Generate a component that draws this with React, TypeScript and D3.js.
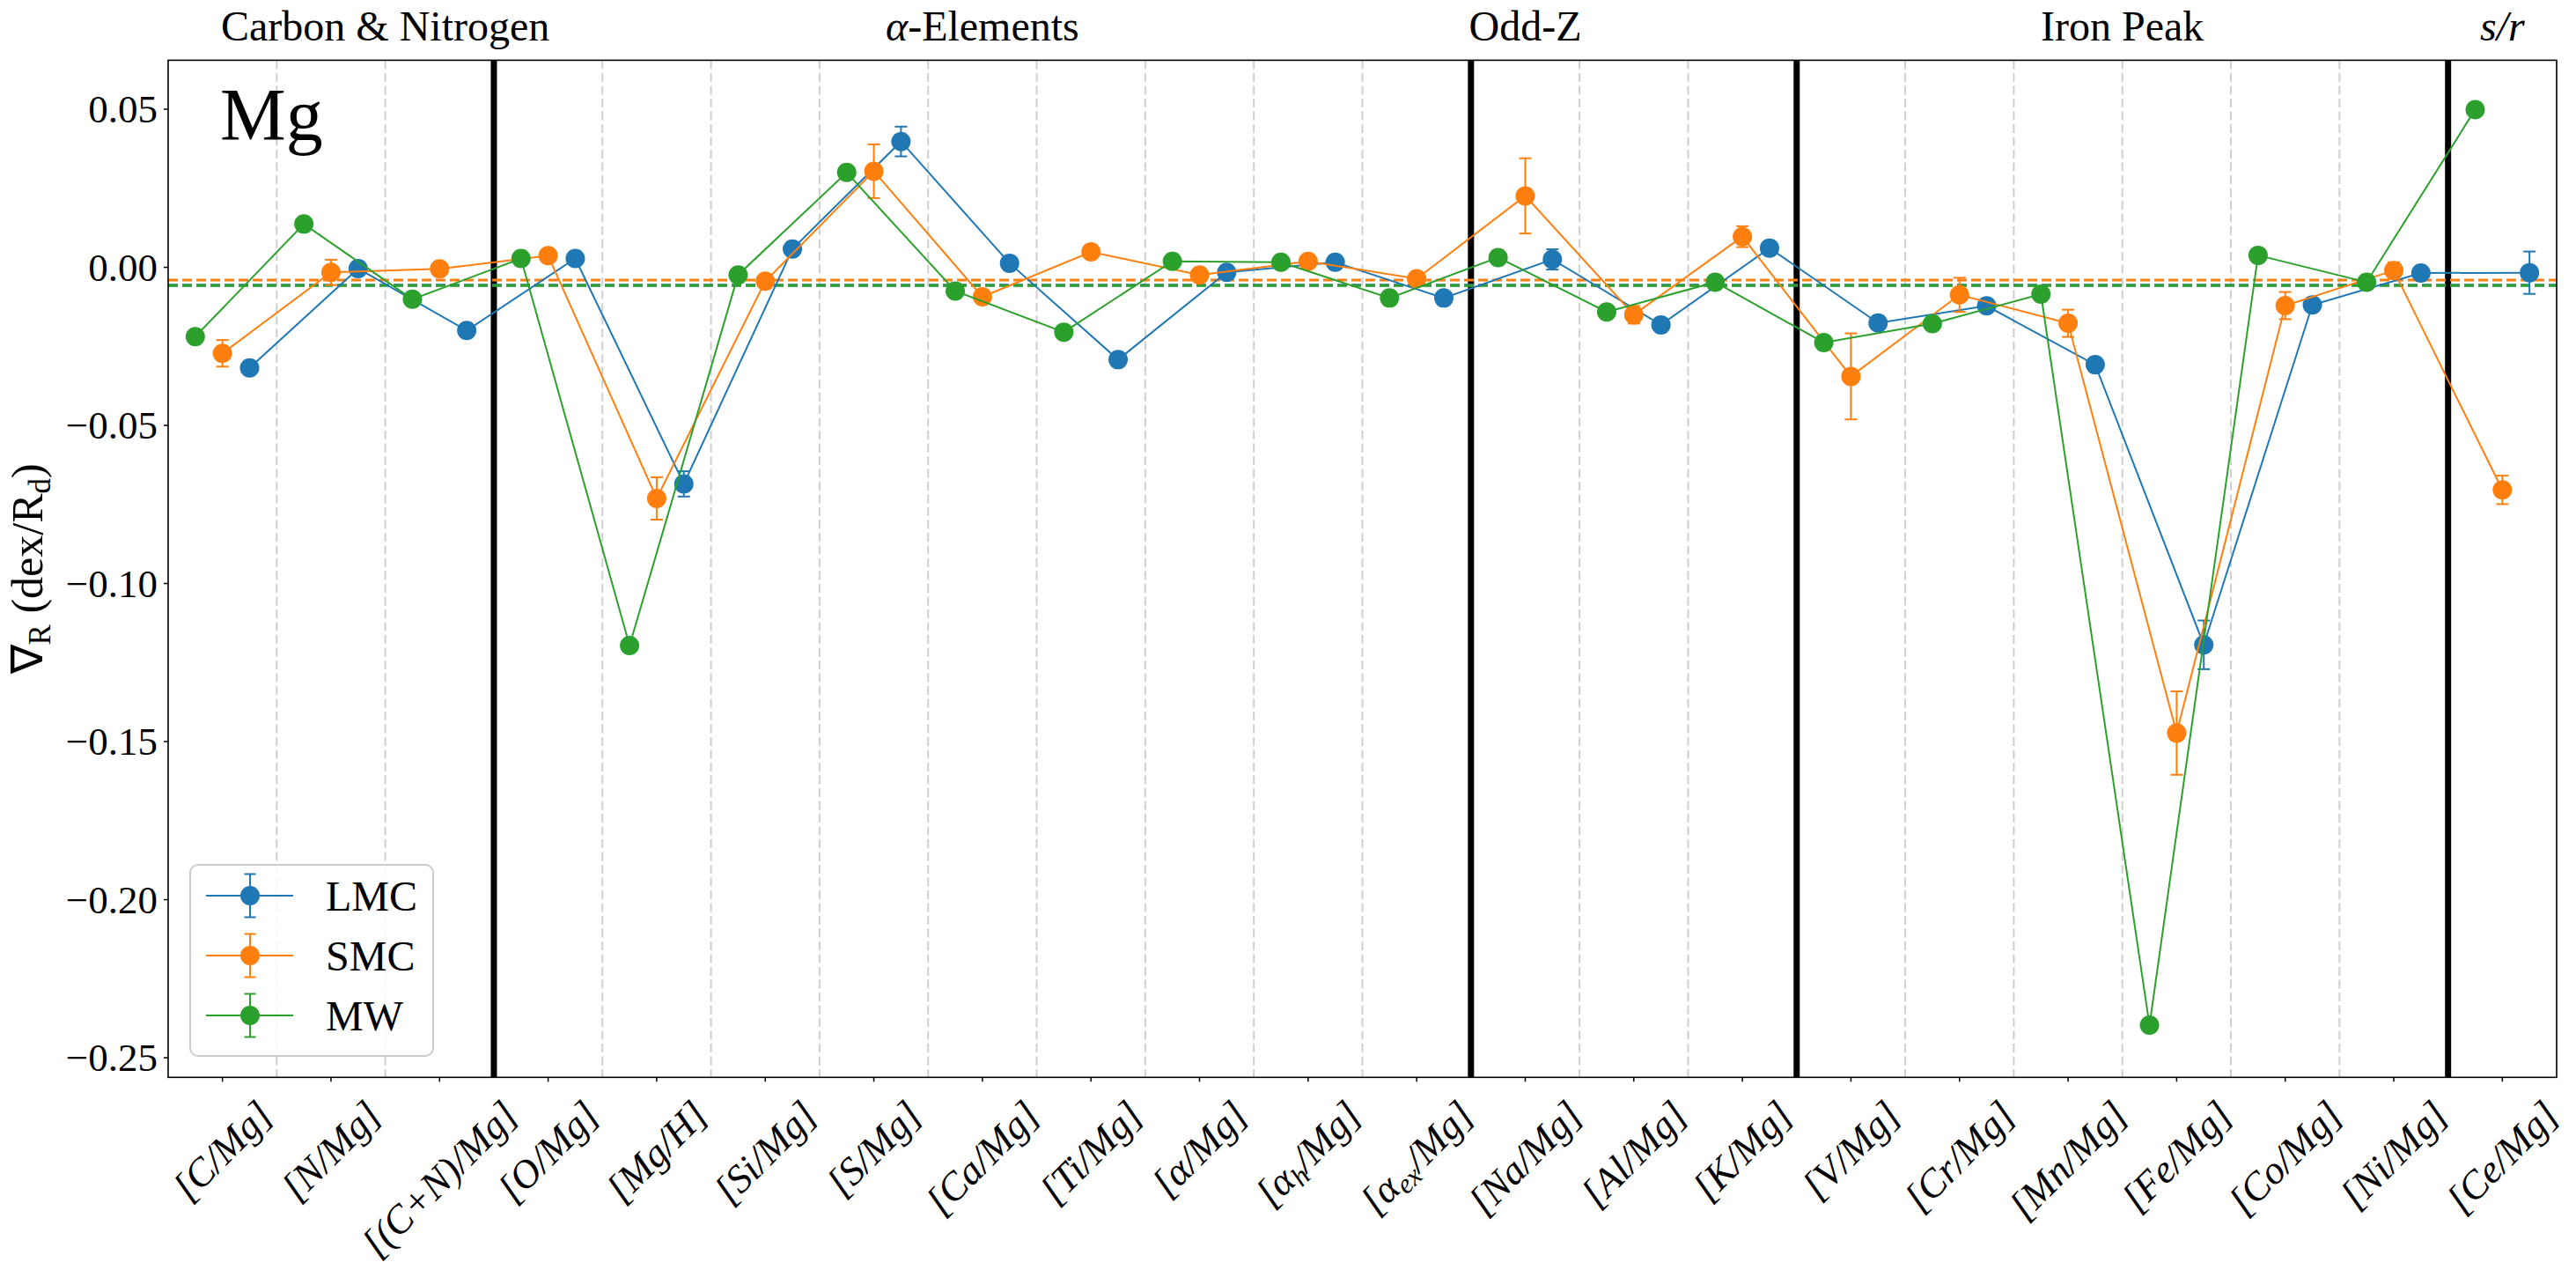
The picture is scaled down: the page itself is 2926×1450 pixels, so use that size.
import React, { useEffect } from 'react';
import * as d3 from 'd3';

// ---------- data ----------
const categories = [
  '[C/Mg]', '[N/Mg]', '[(C+N)/Mg]', '[O/Mg]', '[Mg/H]', '[Si/Mg]', '[S/Mg]',
  '[Ca/Mg]', '[Ti/Mg]', '[α/Mg]', '[α_{h}/Mg]', '[α_{ex}/Mg]', '[Na/Mg]',
  '[Al/Mg]', '[K/Mg]', '[V/Mg]', '[Cr/Mg]', '[Mn/Mg]', '[Fe/Mg]', '[Co/Mg]',
  '[Ni/Mg]', '[Ce/Mg]',
];
const groupBoundaries = [2.5, 11.5, 14.5, 20.5];
const groupTitles = ['Carbon & Nitrogen', '$α$-Elements', 'Odd-Z', 'Iron Peak', '$s/r$'];
const groupTitleX = [1.5, 7, 12, 17.5, 21];

const seriesNames = ['LMC', 'SMC', 'MW'];
const seriesOffsets = [0.25, 0, -0.25];
const seriesColors = ['#1f77b4', '#ff7f0e', '#2ca02c'];

const lmcValues = [-0.0318, -0.0004, -0.0200, 0.0028, -0.0685, 0.0058, 0.0398, 0.0013, -0.0292, -0.0016, 0.0016, -0.0097, 0.0025, -0.0182, 0.0061, -0.0176, -0.0122, -0.0308, -0.1194, -0.0119, -0.0018, -0.0017];
const lmcErrors = [0.002, 0.002, 0.002, 0.002, 0.004, 0.002, 0.0047, 0.002, 0.002, 0.002, 0.002, 0.002, 0.0032, 0.002, 0.002, 0.002, 0.002, 0.002, 0.0077, 0.002, 0.002, 0.0067];
const smcValues = [-0.0272, -0.0016, -0.0005, 0.0037, -0.0731, -0.0044, 0.0304, -0.0093, 0.0049, -0.0024, 0.0019, -0.0036, 0.0226, -0.0150, 0.0097, -0.0345, -0.0087, -0.0177, -0.1473, -0.0121, -0.0010, -0.0704];
const smcErrors = [0.0042, 0.004, 0.002, 0.002, 0.0067, 0.002, 0.0085, 0.002, 0.002, 0.002, 0.002, 0.002, 0.0119, 0.0028, 0.0033, 0.0136, 0.0054, 0.0043, 0.0132, 0.0043, 0.0026, 0.0045];
const mwValues = [-0.0219, 0.0137, -0.0101, 0.0028, -0.1196, -0.0024, 0.0300, -0.0075, -0.0205, 0.0019, 0.0016, -0.0097, 0.0031, -0.0141, -0.0047, -0.0238, -0.0178, -0.0085, -0.2397, 0.0038, -0.0047, 0.0499];
const mwErrors = [0.002, 0.002, 0.002, 0.002, 0.002, 0.002, 0.002, 0.002, 0.002, 0.002, 0.002, 0.002, 0.002, 0.002, 0.002, 0.002, 0.002, 0.002, 0.002, 0.002, 0.002, 0.002];
const meanValues = [-0.0056, -0.0040, -0.0058];

const yTicks = [0.05, 0, -0.05, -0.1, -0.15, -0.2, -0.25];
const panelLabel = 'Mg';

// ---------- layout ----------
const W = 2926;
const H = 1450;
const LEFT = 191;
const RIGHT = 2904;
const TOP = 68.4;
const BOTTOM = 1223.3;
const FONT = "'Liberation Serif', 'Times New Roman', serif";

const x = d3.scaleLinear().domain([-0.5, 21.5]).range([LEFT, RIGHT]);
const y = d3.scaleLinear().domain([-0.2562, 0.0655]).range([BOTTOM, TOP]);

const allValues = [lmcValues, smcValues, mwValues];
const allErrors = [lmcErrors, smcErrors, mwErrors];

let ctx: CanvasRenderingContext2D | null = null;
function measure(text: string, font: string): number {
  if (!ctx) ctx = document.createElement('canvas').getContext('2d');
  if (!ctx) return text.length * 20;
  ctx.font = font;
  return ctx.measureText(text).width;
}

type Part = { t: string; sub: boolean };
function parseSub(s: string): Part[] {
  const parts: Part[] = [];
  const re = /_\{([^}]*)\}/g;
  let last = 0;
  let m: RegExpExecArray | null;
  while ((m = re.exec(s))) {
    if (m.index > last) parts.push({ t: s.slice(last, m.index), sub: false });
    parts.push({ t: m[1], sub: true });
    last = m.index + m[0].length;
  }
  if (last < s.length) parts.push({ t: s.slice(last), sub: false });
  return parts;
}

function fmtTick(v: number): string {
  if (Math.abs(v) < 1e-9) return '0.00';
  return (v < 0 ? '\u2212' : '') + Math.abs(v).toFixed(2);
}

const XT_FS = 45;

function XTickLabel({ label, i }: { label: string; i: number }) {
  const parts = parseSub(label);
  const w = parts.reduce(
    (acc, p) => acc + measure(p.t, `italic ${p.sub ? XT_FS * 0.7 : XT_FS}px ${FONT}`),
    0
  );
  const h = XT_FS * 1.12;
  const side = (w + h) * Math.SQRT1_2;
  const cx = x(i);
  const cy = BOTTOM + 17 + side / 2;
  const shift = XT_FS * 0.25;
  return (
    <text
      transform={`translate(${cx},${cy}) rotate(-45)`}
      textAnchor="middle"
      dominantBaseline="central"
      fontFamily={FONT}
      fontStyle="italic"
      fontSize={XT_FS}
    >
      {parts.map((p, k) =>
        p.sub ? (
          <tspan key={k} fontSize={XT_FS * 0.7} dy={shift}>
            {p.t}
          </tspan>
        ) : (
          <tspan key={k} dy={k > 0 && parts[k - 1].sub ? -shift : 0}>
            {p.t}
          </tspan>
        )
      )}
    </text>
  );
}

function GroupTitle({ s, xv }: { s: string; xv: number }) {
  const segs = s.split('$');
  return (
    <text x={x(xv)} y={46} textAnchor="middle" fontFamily={FONT} fontSize={48}>
      {segs.map((t, k) => (
        <tspan key={k} fontStyle={k % 2 === 1 ? 'italic' : 'normal'}>
          {t}
        </tspan>
      ))}
    </text>
  );
}

export default function App() {
  useEffect(() => {
    document.body.style.margin = '0';
  }, []);

  const line = d3
    .line<[number, number]>()
    .x((d) => d[0])
    .y((d) => d[1]);

  const gridXs = d3.range(0.5, 21, 1).filter((v) => !groupBoundaries.includes(v));

  const capHalf = 7;
  const markerR = 11;

  return (
    <svg
      width={W}
      height={H}
      viewBox={`0 0 ${W} ${H}`}
      style={{ display: 'block', position: 'absolute', left: 0, top: 0, background: '#fff' }}
    >
      <rect x={0} y={0} width={W} height={H} fill="#fff" />
      <defs>
        <clipPath id="plotclip">
          <rect x={LEFT} y={TOP} width={RIGHT - LEFT} height={BOTTOM - TOP} />
        </clipPath>
      </defs>

      {/* grid dashed lines */}
      <g>
        {gridXs.map((v) => (
          <line
            key={v}
            x1={x(v)}
            x2={x(v)}
            y1={TOP}
            y2={BOTTOM}
            stroke="#cfcfcf"
            strokeWidth={2}
            strokeDasharray="10,4.5"
          />
        ))}
      </g>

      {/* group boundaries */}
      <g>
        {groupBoundaries.map((v) => (
          <line key={v} x1={x(v)} x2={x(v)} y1={TOP} y2={BOTTOM} stroke="#000" strokeWidth={7} />
        ))}
      </g>

      {/* mean dashed lines */}
      <g clipPath="url(#plotclip)">
        {meanValues.map((m, s) => (
          <line
            key={s}
            x1={LEFT}
            x2={RIGHT}
            y1={y(m)}
            y2={y(m)}
            stroke={seriesColors[s]}
            strokeWidth={3}
            strokeDasharray="11,5"
          />
        ))}
      </g>

      {/* series */}
      {allValues.map((vals, s) => {
        const pts: [number, number][] = vals.map((v, i) => [x(i + seriesOffsets[s]), y(v)]);
        const errs = allErrors[s];
        const c = seriesColors[s];
        return (
          <g key={seriesNames[s]}>
            <path d={line(pts) || ''} fill="none" stroke={c} strokeWidth={2} />
            {vals.map((v, i) => {
              const px = x(i + seriesOffsets[s]);
              const y1 = y(v + errs[i]);
              const y2 = y(v - errs[i]);
              return (
                <g key={i} stroke={c} strokeWidth={2}>
                  <line x1={px} x2={px} y1={y1} y2={y2} />
                  <line x1={px - capHalf} x2={px + capHalf} y1={y1} y2={y1} />
                  <line x1={px - capHalf} x2={px + capHalf} y1={y2} y2={y2} />
                </g>
              );
            })}
            {pts.map((p, i) => (
              <circle key={i} cx={p[0]} cy={p[1]} r={markerR} fill={c} />
            ))}
          </g>
        );
      })}

      {/* frame */}
      <rect
        x={LEFT}
        y={TOP}
        width={RIGHT - LEFT}
        height={BOTTOM - TOP}
        fill="none"
        stroke="#000"
        strokeWidth={1.6}
      />

      {/* y ticks */}
      <g>
        {yTicks.map((t) => (
          <g key={t}>
            <line x1={LEFT - 5} x2={LEFT} y1={y(t)} y2={y(t)} stroke="#000" strokeWidth={1.5} />
            <text
              x={LEFT - 12}
              y={y(t)}
              textAnchor="end"
              dominantBaseline="central"
              fontFamily={FONT}
              fontSize={45}
            >
              {fmtTick(t)}
            </text>
          </g>
        ))}
      </g>

      {/* x ticks */}
      <g>
        {categories.map((c, i) => (
          <g key={c}>
            <line x1={x(i)} x2={x(i)} y1={BOTTOM} y2={BOTTOM + 5} stroke="#000" strokeWidth={1.5} />
            <XTickLabel label={c} i={i} />
          </g>
        ))}
      </g>

      {/* y axis label */}
      <text
        transform={`translate(48,${(TOP + BOTTOM) / 2}) rotate(-90)`}
        textAnchor="middle"
        fontFamily={FONT}
        fontSize={50}
      >
        <tspan>∇</tspan>
        <tspan fontSize={35} dy={9}>R</tspan>
        <tspan dy={-9}> (dex/R</tspan>
        <tspan fontSize={35} dy={9}>d</tspan>
        <tspan dy={-9}>)</tspan>
      </text>

      {/* group titles */}
      {groupTitles.map((g, k) => (
        <GroupTitle key={g} s={g} xv={groupTitleX[k]} />
      ))}

      {/* panel label */}
      <text x={250} y={159} fontFamily={FONT} fontSize={84}>
        {panelLabel}
      </text>

      {/* legend */}
      <g>
        <rect
          x={216}
          y={982}
          width={276}
          height={217}
          rx={9}
          fill="#fff"
          fillOpacity={0.8}
          stroke="#cccccc"
          strokeWidth={2}
        />
        {seriesNames.map((n, s) => {
          const cy = 1017 + s * 68;
          const c = seriesColors[s];
          return (
            <g key={n}>
              <line x1={234} x2={333} y1={cy} y2={cy} stroke={c} strokeWidth={2.2} />
              <g stroke={c} strokeWidth={2}>
                <line x1={284} x2={284} y1={cy - 24.5} y2={cy + 24.5} />
                <line x1={284 - 6.5} x2={284 + 6.5} y1={cy - 24.5} y2={cy - 24.5} />
                <line x1={284 - 6.5} x2={284 + 6.5} y1={cy + 24.5} y2={cy + 24.5} />
              </g>
              <circle cx={284} cy={cy} r={markerR} fill={c} />
              <text x={370} y={cy + 17} fontFamily={FONT} fontSize={48}>
                {n}
              </text>
            </g>
          );
        })}
      </g>
    </svg>
  );
}
